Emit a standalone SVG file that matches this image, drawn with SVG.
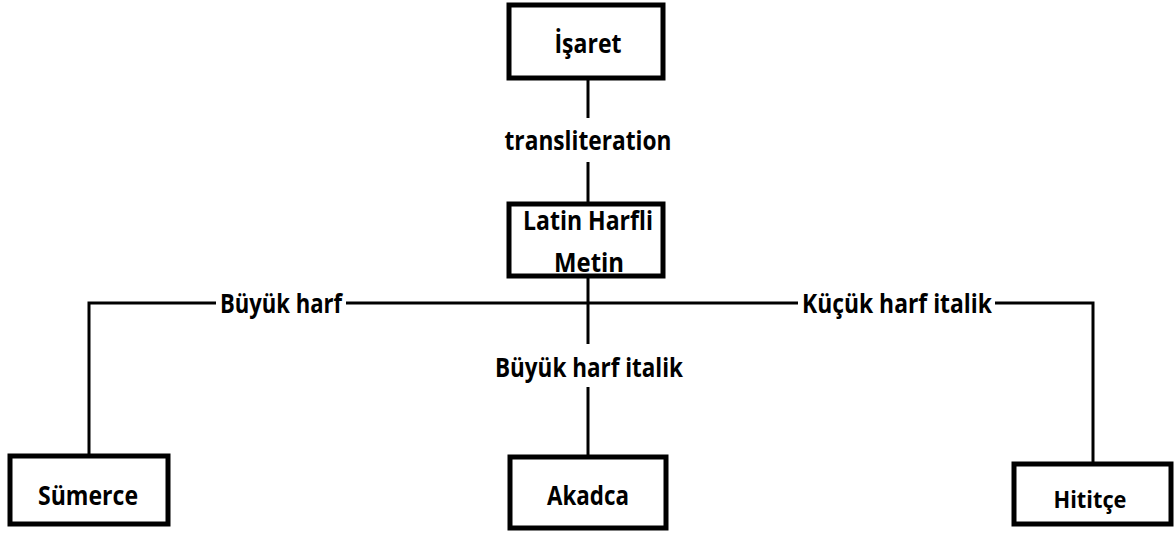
<svg xmlns="http://www.w3.org/2000/svg" width="1175" height="537" viewBox="0 0 1175 537">
  <style>
    .box { fill: #fff; stroke: #000; stroke-width: 5; }
    .link { fill: none; stroke: #000; stroke-width: 3; }
    text { font-family: "Open Sans", "Lato", "Liberation Sans", sans-serif; font-weight: bold; font-size: 27px; fill: #000; text-anchor: middle; }
    .small { font-size: 23px; }
  </style>
  <rect width="1175" height="537" fill="#fff"/>

  <!-- connectors -->
  <g id="connectors">
    <line class="link" x1="588" y1="80" x2="588" y2="118"/>
    <line class="link" x1="588" y1="162" x2="588" y2="203"/>
    <line class="link" x1="588" y1="278" x2="588" y2="344"/>
    <line class="link" x1="588" y1="387" x2="588" y2="456"/>
    <polyline class="link" points="89,455 89,303 216,303"/>
    <line class="link" x1="346" y1="303" x2="798" y2="303"/>
    <polyline class="link" points="995,303 1093,303 1093,463"/>
    <text x="588" y="150" textLength="167" lengthAdjust="spacingAndGlyphs">transliteration</text>
    <text x="281" y="313" textLength="122" lengthAdjust="spacingAndGlyphs">Büyük harf</text>
    <text x="589" y="377" textLength="188" lengthAdjust="spacingAndGlyphs">Büyük harf italik</text>
    <text x="897" y="313" textLength="190" lengthAdjust="spacingAndGlyphs">Küçük harf italik</text>
  </g>

  <g id="isaret">
    <rect class="box" x="509" y="5" width="154" height="73"/>
    <text x="588" y="53" textLength="67" lengthAdjust="spacingAndGlyphs">İşaret</text>
  </g>

  <g id="latin-harfli-metin">
    <rect class="box" x="509" y="204" width="154" height="72"/>
    <text x="588" y="230" textLength="130" lengthAdjust="spacingAndGlyphs">Latin Harfli</text>
    <text x="589" y="272" textLength="70" lengthAdjust="spacingAndGlyphs">Metin</text>
  </g>

  <g id="sumerce">
    <rect class="box" x="10" y="456" width="158" height="68"/>
    <text x="88" y="505" textLength="100" lengthAdjust="spacingAndGlyphs">Sümerce</text>
  </g>

  <g id="akadca">
    <rect class="box" x="510" y="457" width="156" height="71"/>
    <text x="588" y="505" textLength="82" lengthAdjust="spacingAndGlyphs">Akadca</text>
  </g>

  <g id="hititce">
    <rect class="box" x="1014" y="464" width="157" height="60"/>
    <text class="small" x="1090" y="508" textLength="73" lengthAdjust="spacingAndGlyphs">Hititçe</text>
  </g>
</svg>
